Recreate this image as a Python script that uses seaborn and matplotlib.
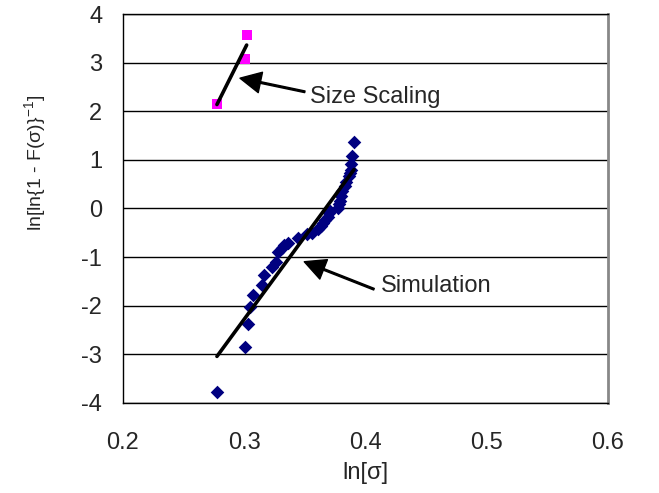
import numpy as np
import pandas as pd
import matplotlib
matplotlib.use("Agg")
import matplotlib.pyplot as plt
import seaborn as sns

# Size-scaling estimates
size_x = [0.2775, 0.3006, 0.302]
size_y = [2.15, 3.08, 3.56]

# Simulation results
sim_x = [0.2775, 0.301, 0.303, 0.305, 0.307, 0.315, 0.316, 0.323, 0.326, 0.328,
         0.331, 0.333, 0.336, 0.344, 0.352, 0.356, 0.361, 0.363, 0.365, 0.367,
         0.369, 0.370, 0.371, 0.377, 0.378, 0.379, 0.380, 0.381, 0.383, 0.384,
         0.386, 0.387, 0.388, 0.388, 0.389, 0.3905]
sim_y = [-3.77, -2.85, -2.37, -2.02, -1.78, -1.58, -1.37, -1.20, -1.10, -0.90,
         -0.82, -0.76, -0.72, -0.60, -0.52, -0.50, -0.42, -0.36, -0.30, -0.24,
         -0.17, -0.10, -0.06, 0.02, 0.10, 0.16, 0.26, 0.36, 0.46, 0.54,
         0.66, 0.74, 0.80, 0.92, 1.08, 1.37]

x_ticks = [0.2, 0.3, 0.4, 0.5, 0.6]
y_ticks = [-4, -3, -2, -1, 0, 1, 2, 3, 4]

sns.set_theme(style="white")
plt.rcParams["font.family"] = ["Liberation Sans", "DejaVu Sans"]
plt.rcParams["mathtext.fontset"] = "custom"
plt.rcParams["mathtext.rm"] = "Liberation Sans"
plt.rcParams["mathtext.it"] = "Liberation Sans"
plt.rcParams["axes.unicode_minus"] = False

fs = 17
fig = plt.figure(figsize=(6.59, 4.93), dpi=100)
ax = fig.add_axes([0.1866, 0.1826, 0.736, 0.789])

size_df = pd.DataFrame({"x": size_x, "y": size_y})
sim_df = pd.DataFrame({"x": sim_x, "y": sim_y})

# Scatter of each series with its least-squares trend line
sns.regplot(data=sim_df, x="x", y="y", ax=ax, ci=None, marker="D",
            scatter_kws=dict(color="#000080", s=48, linewidths=0, alpha=1, zorder=3),
            line_kws=dict(color="black", lw=2.6, zorder=4, solid_capstyle="round"))
sns.regplot(data=size_df, x="x", y="y", ax=ax, ci=None, marker="s",
            scatter_kws=dict(color="#FF00FF", s=62, linewidths=0, alpha=1, zorder=3),
            line_kws=dict(color="black", lw=2.6, zorder=4, solid_capstyle="round"))

ax.set_xlim(0.2, 0.6)
ax.set_ylim(-4, 4)
ax.set_xticks(x_ticks)
ax.set_yticks(y_ticks)
ax.set_xticklabels([f"{v:.1f}" for v in x_ticks], fontsize=fs)
ax.set_yticklabels([str(v) for v in y_ticks], fontsize=fs)
ax.tick_params(axis="x", length=0, pad=21)
ax.tick_params(axis="y", length=0, pad=15)

ax.yaxis.grid(True, color="black", lw=1.0)
ax.xaxis.grid(False)
ax.set_axisbelow(True)

for side in ["left", "bottom", "top"]:
    ax.spines[side].set_color("black")
    ax.spines[side].set_linewidth(1.0)
ax.spines["right"].set_color("#888888")
ax.spines["right"].set_linewidth(2.0)

ax.set_xlabel(r"ln[σ]", fontsize=fs, labelpad=6)
ax.set_ylabel(r"ln[ln{1 - F(σ)}$^{-1}$]", fontsize=14)
ax.yaxis.set_label_coords(-0.155, 0.616)

arrow = dict(facecolor="black", edgecolor="black", width=1.2, headwidth=15,
             headlength=15, shrink=0)
ax.annotate("", xy=(0.2965, 2.68), xytext=(0.350, 2.40), arrowprops=arrow)
ax.text(0.354, 2.30, "Size Scaling", fontsize=fs, va="center", ha="left")
ax.annotate("", xy=(0.3495, -1.095), xytext=(0.407, -1.66), arrowprops=arrow)
ax.text(0.4128, -1.59, "Simulation", fontsize=fs, va="center", ha="left")

fig.savefig("out.png", dpi=100)
